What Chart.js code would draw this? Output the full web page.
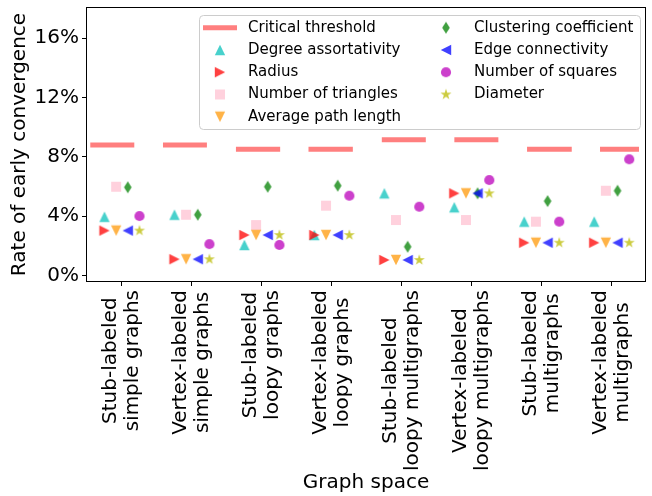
<!DOCTYPE html>
<html><head><meta charset="utf-8">
<script src="https://cdn.jsdelivr.net/npm/chart.js@4"></script>
<style>html,body{margin:0;padding:0;background:#fff}</style>
</head><body>
<canvas id="c" width="652" height="496"></canvas>
<script>
// ---------- data ----------
const categories = [
  ["Stub-labeled", "simple graphs"],
  ["Vertex-labeled", "simple graphs"],
  ["Stub-labeled", "loopy graphs"],
  ["Vertex-labeled", "loopy graphs"],
  ["Stub-labeled", "loopy multigraphs"],
  ["Vertex-labeled", "loopy multigraphs"],
  ["Stub-labeled", "multigraphs"],
  ["Vertex-labeled", "multigraphs"]
];
const yTicks = [0, 4, 8, 12, 16];
const criticalThreshold = [8.80, 8.80, 8.51, 8.51, 9.16, 9.16, 8.51, 8.51];
const thresholdStart = [-0.453, 0.586, 1.629, 2.666, 3.714, 4.751, 5.790, 6.833];
const thresholdEnd   = [0.176, 1.214, 2.261, 3.300, 4.343, 5.380, 6.429, 7.390];
const degreeAssortativity = [3.96, 4.10, 2.06, 2.73, 5.54, 4.60, 3.63, 3.63];
const radius              = [3.03, 1.10, 2.73, 2.73, 1.05, 5.54, 2.21, 2.21];
const numberOfTriangles   = [5.99, 4.10, 3.40, 4.71, 3.74, 3.74, 3.63, 5.72];
const averagePathLength   = [3.03, 1.10, 2.73, 2.73, 1.05, 5.54, 2.21, 2.21];
const clusteringCoeff     = [5.95, 4.10, 5.99, 6.06, 1.94, 5.54, 5.02, 5.72];
const edgeConnectivity    = [3.03, 1.10, 2.73, 2.73, 1.05, 5.54, 2.21, 2.21];
const numberOfSquares     = [4.01, 2.12, 2.06, 5.38, 4.64, 6.44, 3.63, 7.84];
const diameter            = [3.03, 1.10, 2.73, 2.73, 1.05, 5.54, 2.21, 2.21];

// ---------- marker images ----------
function marker(color, draw) {
  const c = document.createElement('canvas');
  c.width = 16; c.height = 16;
  const g = c.getContext('2d');
  g.translate(8, 8);
  g.fillStyle = color;
  g.beginPath();
  draw(g);
  g.closePath();
  g.fill();
  return c;
}
const S = 5.2;
const triUp = g => { g.moveTo(0, -S); g.lineTo(S, S); g.lineTo(-S, S); };
const triDown = g => { g.moveTo(0, S); g.lineTo(S, -S); g.lineTo(-S, -S); };
const triRight = g => { g.moveTo(S, 0); g.lineTo(-S, S); g.lineTo(-S, -S); };
const triLeft = g => { g.moveTo(-S, 0); g.lineTo(S, S); g.lineTo(S, -S); };
const square = g => { g.rect(-5, -5, 10, 10); };
const circle = g => { g.arc(0, 0, 5.1, 0, Math.PI * 2); };
const thinDiamond = g => { g.moveTo(0, -6); g.lineTo(3.8, 0); g.lineTo(0, 6); g.lineTo(-3.8, 0); };
const star = g => {
  const R = 5.8, r = R * 0.382;
  for (let k = 0; k < 10; k++) {
    const a = -Math.PI / 2 + k * Math.PI / 5;
    const rr = k % 2 ? r : R;
    if (k === 0) g.moveTo(rr * Math.cos(a), rr * Math.sin(a));
    else g.lineTo(rr * Math.cos(a), rr * Math.sin(a));
  }
};

const series = [
  {label: 'Degree assortativity', data: degreeAssortativity, color: 'rgba(11,194,187,0.75)', shape: triUp, off: -0.25},
  {label: 'Radius', data: radius, color: 'rgba(255,0,0,0.75)', shape: triRight, off: -0.25},
  {label: 'Number of triangles', data: numberOfTriangles, color: 'rgba(255,194,209,0.75)', shape: square, off: -1/12},
  {label: 'Average path length', data: averagePathLength, color: 'rgba(255,154,10,0.75)', shape: triDown, off: -1/12},
  {label: 'Clustering coefficient', data: clusteringCoeff, color: 'rgba(0,128,0,0.75)', shape: thinDiamond, off: 1/12},
  {label: 'Edge connectivity', data: edgeConnectivity, color: 'rgba(0,0,255,0.75)', shape: triLeft, off: 1/12},
  {label: 'Number of squares', data: numberOfSquares, color: 'rgba(187,0,187,0.75)', shape: circle, off: 0.25},
  {label: 'Diameter', data: diameter, color: 'rgba(187,187,0,0.75)', shape: star, off: 0.25}
];
series.forEach(s => s.img = marker(s.color, s.shape));

const thresholdColor = 'rgba(255,0,0,0.5)';
const thresholdData = [];
criticalThreshold.forEach((v, i) => {
  thresholdData.push({x: thresholdStart[i], y: v}, {x: thresholdEnd[i], y: v});
  if (i < criticalThreshold.length - 1)
    thresholdData.push({x: (thresholdEnd[i] + thresholdStart[i + 1]) / 2, y: null});
});

const datasets = [{
  type: 'line', label: 'Critical threshold', data: thresholdData,
  borderColor: thresholdColor, borderWidth: 5, borderCapStyle: 'butt',
  pointRadius: 0, spanGaps: false, order: 100, fill: false
}];
series.forEach((s, k) => {
  datasets.push({
    type: 'scatter', label: s.label,
    data: s.data.map((v, i) => ({x: i + s.off, y: v})),
    pointStyle: s.img, pointRadius: 5, order: 50 - k,
    backgroundColor: s.color, borderColor: s.color
  });
});

const FONT = 'DejaVu Sans';
Chart.defaults.font.family = FONT;
Chart.defaults.color = '#000';

const framePlugin = {
  id: 'frame',
  afterDatasetsDraw(chart) {
    const {ctx, chartArea: a} = chart;
    ctx.save();
    ctx.strokeStyle = '#000'; ctx.lineWidth = 1;
    ctx.strokeRect(a.left - 0.5, a.top - 0.5, a.right - a.left + 1, a.bottom - a.top + 1);
    ctx.restore();
  },
  afterDraw(chart) {
    const {ctx} = chart;
    const xs = chart.scales.x;
    // x tick labels (rotated, centred multi-line)
    ctx.save();
    ctx.font = '20px ' + FONT;
    ctx.fillStyle = '#000';
    ctx.textAlign = 'center';
    ctx.textBaseline = 'middle';
    const lineH = 22;
    const top = chart.chartArea.bottom + 9;
    categories.forEach((lines, i) => {
      const px = xs.getPixelForValue(i);
      const maxW = Math.max(...lines.map(l => ctx.measureText(l).width));
      lines.forEach((l, j) => {
        ctx.save();
        ctx.translate(px + (j - (lines.length - 1) / 2) * lineH, top + maxW / 2);
        ctx.rotate(-Math.PI / 2);
        ctx.fillText(l, 0, 0);
        ctx.restore();
      });
    });
    ctx.restore();

    // legend
    ctx.save();
    ctx.beginPath();
    ctx.roundRect(199.5, 15.5, 441, 114, 4);
    ctx.fillStyle = 'rgba(255,255,255,0.8)';
    ctx.fill();
    ctx.strokeStyle = '#cccccc'; ctx.lineWidth = 1;
    ctx.stroke();
    ctx.font = '15px ' + FONT;
    ctx.textAlign = 'left';
    ctx.textBaseline = 'middle';
    ctx.fillStyle = '#000';
    const rowY = r => 27.7 + r * 22.25;
    const entries = [{label: 'Critical threshold', line: true}].concat(series);
    entries.forEach((e, k) => {
      const col = k < 5 ? 0 : 1;
      const row = k < 5 ? k : k - 5;
      const hx = col ? 446 : 220;
      const tx = col ? 474 : 248;
      const y = rowY(row);
      if (e.line) {
        ctx.strokeStyle = thresholdColor; ctx.lineWidth = 5; ctx.lineCap = 'butt';
        ctx.beginPath(); ctx.moveTo(203, y); ctx.lineTo(237, y); ctx.stroke();
      } else {
        ctx.drawImage(e.img, hx - 8, y - 8);
      }
      ctx.fillStyle = '#000';
      ctx.fillText(e.label, tx, y);
    });
    ctx.restore();
  }
};

new Chart(document.getElementById('c'), {
  type: 'scatter',
  data: {datasets},
  options: {
    responsive: false, animation: false, devicePixelRatio: 1,
    layout: {padding: {top: 8, right: 7, bottom: 0, left: 0}},
    plugins: {legend: {display: false}, tooltip: {enabled: false}},
    scales: {
      x: {
        type: 'linear', min: -0.5, max: 7.476,
        afterBuildTicks: s => { s.ticks = categories.map((c, i) => ({value: i})); },
        afterFit: s => { s.height = 215; s.paddingLeft = 0; s.paddingRight = 0; },
        ticks: {display: false},
        grid: {display: true, drawOnChartArea: false, drawTicks: true, tickLength: 5, tickColor: '#000', tickWidth: 1},
        border: {display: false},
        title: {display: true, text: 'Graph space', font: {size: 20, family: FONT}, color: '#000', padding: {top: 0, bottom: 1}}
      },
      y: {
        type: 'linear', min: -0.37, max: 18.04,
        afterBuildTicks: s => { s.ticks = yTicks.map(v => ({value: v})); },
        afterFit: s => { s.width = 87; s.paddingTop = 0; s.paddingBottom = 0; },
        ticks: {callback: v => v + '%', font: {size: 20, family: FONT}, color: '#000', padding: 3},
        grid: {display: true, drawOnChartArea: false, drawTicks: true, tickLength: 5, tickColor: '#000', tickWidth: 1},
        border: {display: false},
        title: {display: true, text: 'Rate of early convergence', font: {size: 20, family: FONT}, color: '#000', padding: {top: 8, bottom: 0}}
      }
    }
  },
  plugins: [framePlugin]
});
</script>
</body></html>
